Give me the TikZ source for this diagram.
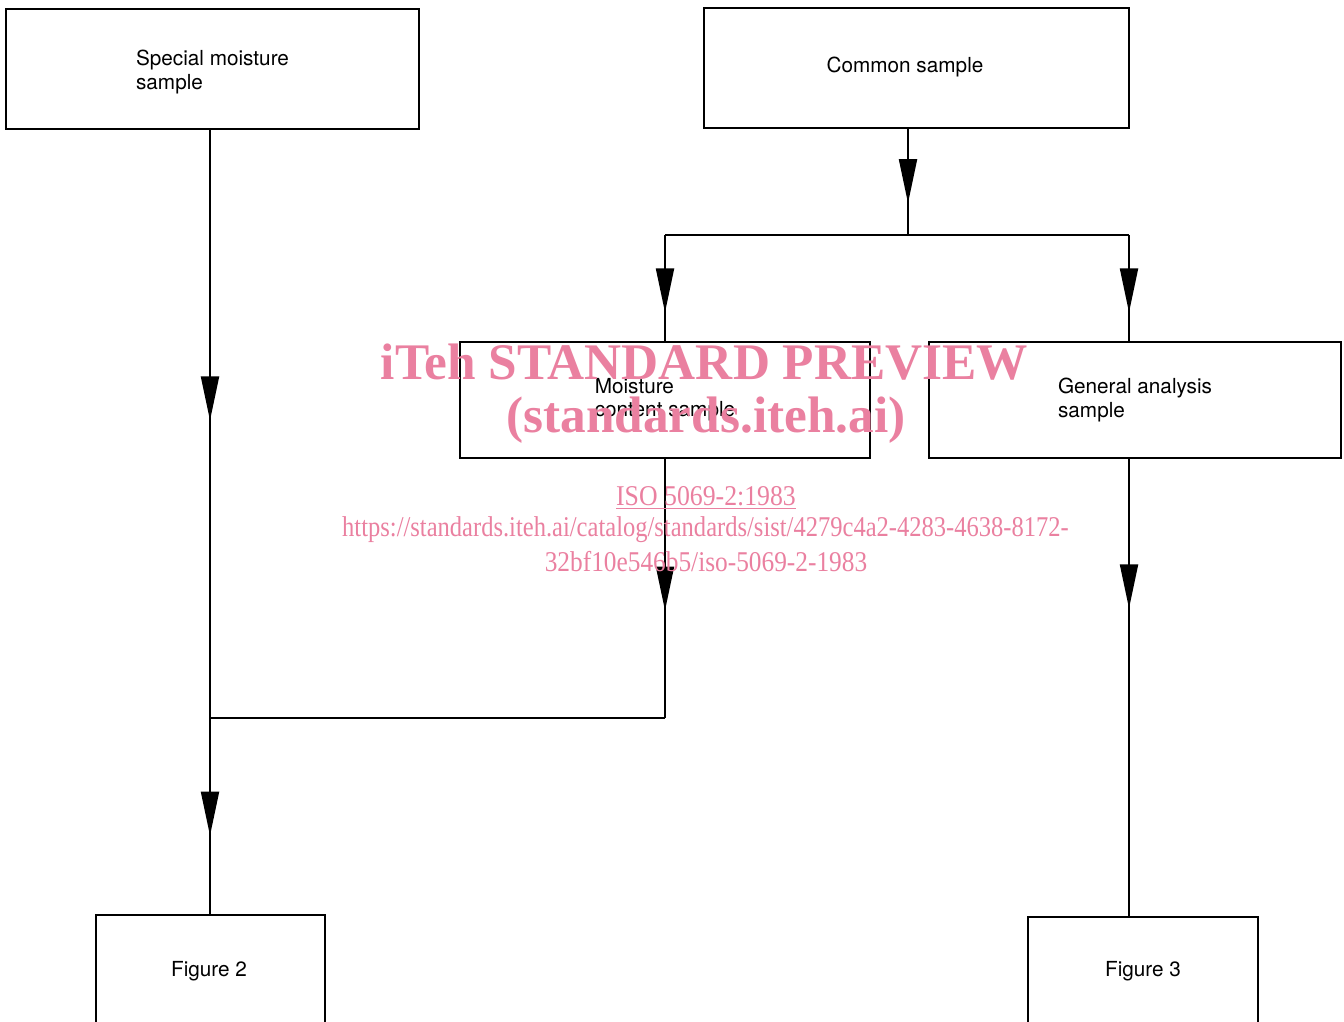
\documentclass[tikz,border=0pt]{standalone}
\usepackage{fontspec}
\setmainfont{TeX Gyre Heros}
\newfontfamily\wmfont{Liberation Serif}
\usepackage{tikz}
\usetikzlibrary{arrows.meta}
\usetikzlibrary{decorations.markings}
\definecolor{wmpink}{RGB}{234,128,160}
\pgfdeclarelayer{edgelayer}
\pgfdeclarelayer{nodelayer}
\pgfsetlayers{edgelayer,nodelayer,main}
\tikzset{
	box/.style={draw, line width=1.1pt, fill=white, align=left, inner sep=0pt,
		font=\fontsize{11.8}{13.2}\selectfont},
	flow/.style={line width=1.1pt},
	midarrow/.style={flow, postaction={decorate, decoration={markings,
		mark=at position #1 with {\arrow{Triangle[length=0.88cm,width=0.36cm]}}}}},
	wmark/.style={text=wmpink, inner sep=0pt}
}

\begin{document}
\begin{tikzpicture}[x=0.02cm, y=-0.02cm]
	\useasboundingbox (0,0) rectangle (1344,1021);
	\begin{pgfonlayer}{nodelayer}
		\node [style=box, minimum width=8.26cm, minimum height=2.4cm] (special) at (212.5, 69) {};
		\node [font=\fontsize{11.8}{13.2}\selectfont, align=left, inner sep=0pt] (specialtxt) at (212.5, 72) {Special moisture\\sample};
		\node [style=box, minimum width=8.5cm, minimum height=2.4cm] (common) at (916.5, 68) {};
		\node [font=\fontsize{11.8}{13.2}\selectfont, inner sep=0pt] (commontxt) at (905, 67) {Common sample};
		\node [style=box, minimum width=8.2cm, minimum height=2.32cm] (moist) at (665, 400) {Moisture\\content sample};
		\node [style=box, minimum width=8.24cm, minimum height=2.32cm] (general) at (1135, 400) {General analysis\\sample};
		\node [style=box, minimum width=4.58cm, minimum height=2.16cm] (fig2) at (210.5, 969) {};
		\node [font=\fontsize{11.8}{13.2}\selectfont, inner sep=0pt] (fig2txt) at (209, 971) {Figure 2};
		\node [style=box, minimum width=4.6cm, minimum height=2.16cm] (fig3) at (1143, 971) {Figure 3};
		\coordinate (split) at (908, 235);
		\coordinate (splitL) at (665, 235);
		\coordinate (splitR) at (1129, 235);
		\coordinate (join) at (210, 718);
		\coordinate (joinR) at (665, 718);
	\end{pgfonlayer}
	\begin{pgfonlayer}{edgelayer}
		\draw [style={midarrow=0.70}] (common.south -| split) to (split);
		\draw [style=flow] (splitL) to (splitR);
		\draw [style={midarrow=0.73}] (splitL) to (moist.north);
		\draw [style={midarrow=0.73}] (splitR) to (splitR |- general.north);
		\draw [style={midarrow=0.494}] (special.south -| join) to (join);
		\draw [style={midarrow=0.585}] (moist.south) to (joinR);
		\draw [style=flow] (joinR) to (join);
		\draw [style={midarrow=0.60}] (join) to (join |- fig2.north);
		\draw [style={midarrow=0.327}] (splitR |- general.south) to (splitR |- fig3.north);
	\end{pgfonlayer}
	% watermark
	\node [style=wmark, font=\wmfont\bfseries\fontsize{29.2}{30}\selectfont] (wm1) at (704.5, 362) {iTeh STANDARD PREVIEW};
	\node [style=wmark, font=\wmfont\bfseries\fontsize{29.2}{30}\selectfont] (wm2) at (706, 420) {(standards.iteh.ai)};
	\node [style=wmark, font=\wmfont\fontsize{16.3}{18}\selectfont, xscale=0.90] (wm3) at (706, 498) {\underline{ISO 5069-2:1983}};
	\node [style=wmark, font=\wmfont\fontsize{16.3}{18}\selectfont, xscale=0.857] (wm4) at (705.5, 530) {https://standards.iteh.ai/catalog/standards/sist/4279c4a2-4283-4638-8172-};
	\node [style=wmark, font=\wmfont\fontsize{16.3}{18}\selectfont, xscale=0.885] (wm5) at (706, 562) {32bf10e546b5/iso-5069-2-1983};
\end{tikzpicture}
\end{document}
